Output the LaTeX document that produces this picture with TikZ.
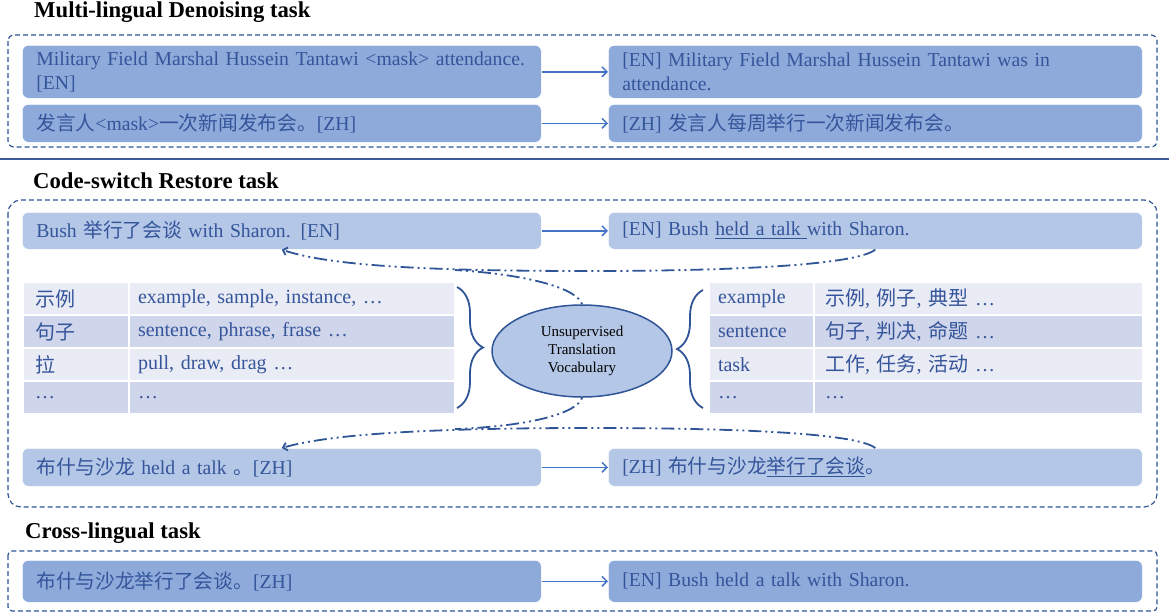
\documentclass[tikz,border=0pt]{standalone}
\usepackage{fontspec}
\setmainfont{Liberation Serif}
\newfontfamily\cjk{Noto Sans CJK SC}
\usetikzlibrary{arrows.meta,decorations.pathreplacing,shapes.geometric}
\definecolor{tx}{HTML}{35559B}
\definecolor{midb}{HTML}{8EAADB}
\definecolor{lightb}{HTML}{B4C7E7}
\definecolor{tabA}{HTML}{E9EBF5}
\definecolor{tabB}{HTML}{CFD5EA}
\definecolor{arrc}{HTML}{4472C4}
\definecolor{frm}{HTML}{2F5597}
\definecolor{hrc}{HTML}{3E5C9A}
\newsavebox\ulbox
\newcommand\ulb[1]{\sbox\ulbox{#1}\rlap{\color{frm}\rule[-3.5pt]{\wd\ulbox}{1.8pt}}\usebox\ulbox}
\tikzset{
  box/.style={draw=white, line width=0.6pt, rounded corners=6pt, anchor=north west,
    inner xsep=14pt, inner ysep=0pt, align=left, text=tx,
    font=\fontsize{19.7}{24}\selectfont},
  boxm/.style={box, fill=midb},
  boxl/.style={box, fill=lightb},
  frame/.style={draw=frm, line width=1.2pt, dash pattern=on 5pt off 3pt},
  arr/.style={draw=arrc, line width=1.5pt, -{Straight Barb[length=5pt,width=10pt]}},
  ddot/.style={draw=frm, line width=1.8pt,
    dash pattern=on 13pt off 4pt on 2pt off 4pt on 2pt off 4pt,
    -{Straight Barb[length=4pt,width=8pt]}},
  ddotb/.style={draw=frm, line width=1.8pt,
    dash pattern=on 2pt off 4pt on 2pt off 4pt on 13pt off 4pt},
  ttl/.style={font=\bfseries\fontsize{22.7}{26}\selectfont, anchor=base west, text=black, inner sep=0pt},
  cell/.style={draw=white, line width=2pt, anchor=north west, minimum height=33pt,
    inner ysep=0pt, align=left, text=tx, font=\fontsize{20}{24}\selectfont},
  cA/.style={cell, fill=tabA},
  cB/.style={cell, fill=tabB},
  brc/.style={draw=frm, line width=1.8pt, decorate, decoration={brace, amplitude=26pt}},
}
\begin{document}
\begin{tikzpicture}[x=1pt,y=-1pt]
\useasboundingbox (0,0) rectangle (1169,614);

% ---------- Multi-lingual Denoising ----------
\node[ttl] (t1) at (34,17) {Multi-lingual Denoising task};
\draw[frame, rounded corners=6pt] (8,35) rectangle (1157,147);
\node[boxm, text width=491pt, minimum height=53pt] (a1) at (22,45)
  {Military Field Marshal Hussein Tantawi <mask> attendance.\\\relax[EN]};
\node[boxm, text width=491pt, minimum height=38pt] (a2) at (22,104)
  {{\cjk 发言人}<mask>{\cjk 一次新闻发布会。}[ZH]};
\node[boxm, text width=506pt, minimum height=53pt] (b1) at (608,45)
  {[EN] Military Field Marshal Hussein Tantawi was in\\attendance.};
\node[boxm, text width=506pt, minimum height=38pt] (b2) at (608,104)
  {[ZH] {\cjk 发言人每周举行一次新闻发布会。}};
\draw[arr] (a1.east) -- (b1.west);
\draw[arr] (a2.east) -- (b2.west);

% separator rule
\fill[hrc] (0,158) rectangle (1169,160);

% ---------- Code-switch Restore ----------
\node[ttl] (t2) at (33,188) {Code-switch Restore task};
\draw[frame, rounded corners=13pt] (8,200) rectangle (1157,507);
\node[boxl, text width=491pt, minimum height=37pt] (c1) at (22,212)
  {Bush {\cjk 举行了会谈} with Sharon. [EN]};
\node[boxl, text width=506pt, minimum height=37pt] (c2) at (608,212)
  {[EN] Bush \ulb{held a talk }with Sharon.};
\draw[arr] (c1.east) -- (c2.west);

% left table
\node[cA, text width=82pt, inner xsep=12pt] (l11) at (22,281) {\cjk 示例};
\node[cA, text width=308pt, inner xsep=9pt] (l12) at (128,281) {example, sample, instance, …};
\node[cB, text width=82pt, inner xsep=12pt] (l21) at (22,314) {\cjk 句子};
\node[cB, text width=308pt, inner xsep=9pt] (l22) at (128,314) {sentence, phrase, frase …};
\node[cA, text width=82pt, inner xsep=12pt] (l31) at (22,347) {\cjk 拉};
\node[cA, text width=308pt, inner xsep=9pt] (l32) at (128,347) {pull, draw, drag …};
\node[cB, text width=82pt, inner xsep=12pt] (l41) at (22,380) {…};
\node[cB, text width=308pt, inner xsep=9pt] (l42) at (128,380) {…};

% right table
\node[cA, text width=87pt, inner xsep=9pt] (r11) at (708,281) {example};
\node[cA, text width=307pt, inner xsep=11pt] (r12) at (813,281) {{\cjk 示例}, {\cjk 例子}, {\cjk 典型} …};
\node[cB, text width=87pt, inner xsep=9pt] (r21) at (708,314) {sentence};
\node[cB, text width=307pt, inner xsep=11pt] (r22) at (813,314) {{\cjk 句子}, {\cjk 判决}, {\cjk 命题} …};
\node[cA, text width=87pt, inner xsep=9pt] (r31) at (708,347) {task};
\node[cA, text width=307pt, inner xsep=11pt] (r32) at (813,347) {{\cjk 工作}, {\cjk 任务}, {\cjk 活动} …};
\node[cB, text width=87pt, inner xsep=9pt] (r41) at (708,380) {…};
\node[cB, text width=307pt, inner xsep=11pt] (r42) at (813,380) {…};

% braces
\draw[brc] (457,287) -- (457,408);
\draw[brc] (703,408) -- (703,290);

% ellipse
\node[ellipse, draw=frm, fill=lightb, line width=1.5pt, minimum width=180pt,
  minimum height=92pt, inner sep=0pt, align=center, text=black,
  font=\fontsize{15}{18}\selectfont] (utv) at (582,351)
  {Unsupervised\\Translation\\Vocabulary};

\node[boxl, text width=491pt, minimum height=38pt] (d1) at (22,448)
  {{\cjk 布什与沙龙} held a talk {\cjk 。}[ZH]};
\node[boxl, text width=506pt, minimum height=38pt] (d2) at (608,448)
  {[ZH] {\cjk 布什与沙龙\ulb{举行了会谈}。}};
\draw[arr] (d1.east) -- (d2.west);

% dash-dot connectors
\draw[ddot] (c2.south) .. controls (855,266) and (720,271) .. (590,271)
  .. controls (430,271) and (330,266) .. (c1.south);
\coordinate (m1) at (455,270);
\draw[ddotb] (utv.north) .. controls (578,290) and (535,275) .. (m1);
\draw[ddot] (d2.north) .. controls (855,432) and (720,428) .. (590,428)
  .. controls (430,428) and (330,434) .. (d1.north);
\coordinate (m2) at (455,429);
\draw[ddotb] (utv.south) .. controls (578,412) and (535,426) .. (m2);

% ---------- Cross-lingual ----------
\node[ttl] (t3) at (25,538) {Cross-lingual task};
\draw[frame, rounded corners=4pt] (8,551) rectangle (1157,611);
\node[boxm, text width=491pt, minimum height=42pt] (e1) at (22,560)
  {{\cjk 布什与沙龙举行了会谈。}[ZH]};
\node[boxm, text width=506pt, minimum height=42pt] (e2) at (608,560)
  {[EN] Bush held a talk with Sharon.};
\draw[arr] (e1.east) -- (e2.west);
\end{tikzpicture}
\end{document}
